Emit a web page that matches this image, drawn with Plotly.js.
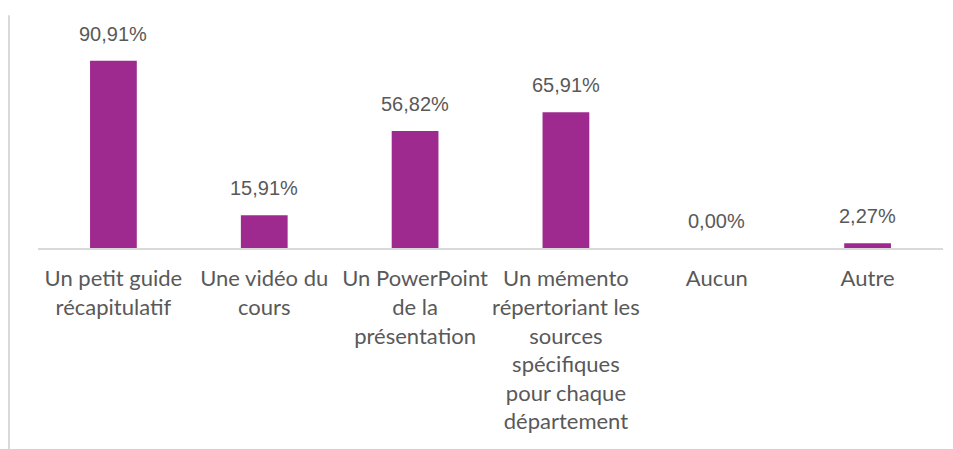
<!DOCTYPE html>
<html>
<head>
<meta charset="utf-8">
<script src="https://cdn.plot.ly/plotly-3.0.1.min.js"></script>
<style>
  html, body { margin: 0; padding: 0; background: #fff; }
  #chart { width: 953px; height: 449px; }
</style>
</head>
<body>
<div id="chart"></div>
<script>
// Survey answers and their share
const categories = [
  "Un petit guide<br>récapitulatif",
  "Une vidéo du<br>cours",
  "Un PowerPoint<br>de la<br>présentation",
  "Un mémento<br>répertoriant les<br>sources<br>spécifiques<br>pour chaque<br>département",
  "Aucun",
  "Autre"
];
const shares = [90.91, 15.91, 56.82, 65.91, 0, 2.27];

const grey = "#595959";

const trace = {
  x: categories,
  y: shares,
  type: "bar",
  width: 0.31,
  marker: { color: "#9e2a8f" },
  hoverinfo: "skip"
};

// value labels sit a bit higher above the bars than plotly's own outside text
const labels = categories.map((c, i) => ({
  x: c,
  y: shares[i],
  xref: "x",
  yref: "y",
  text: shares[i].toFixed(2).replace(".", ",") + "%",
  showarrow: false,
  yanchor: "bottom",
  yshift: 14,
  font: { family: "Liberation Sans, Arial", size: 20, color: grey }
}));

const layout = {
  width: 953,
  height: 449,
  margin: { l: 38, r: 10, t: 42, b: 201 },
  paper_bgcolor: "#fff",
  plot_bgcolor: "#fff",
  showlegend: false,
  xaxis: {
    showline: true,
    linecolor: "#d9d9d9",
    linewidth: 2,
    ticks: "",
    ticklabelstandoff: 10,
    tickfont: { family: "Lato, Open Sans", size: 22, color: grey },
    fixedrange: true
  },
  yaxis: {
    range: [0, 100],
    visible: false,
    showgrid: false,
    zeroline: false,
    fixedrange: true
  },
  annotations: labels,
  // light border line on the left edge of the picture
  shapes: [{
    type: "line",
    xref: "paper", yref: "paper",
    x0: -29 / 905, x1: -29 / 905,
    y0: -201 / 206, y1: 1.13,
    line: { color: "#d9d9d9", width: 2 }
  }]
};

Plotly.newPlot("chart", [trace], layout, { displayModeBar: false, staticPlot: true });
</script>
</body>
</html>
